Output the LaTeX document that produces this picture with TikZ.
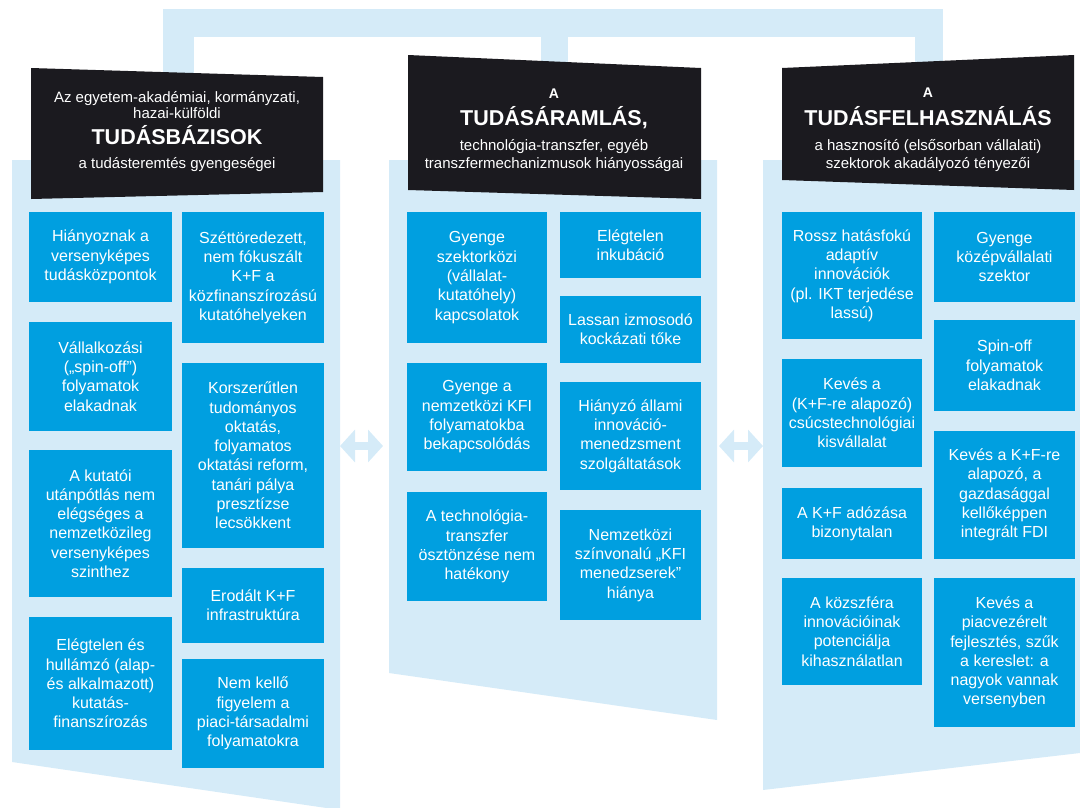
\documentclass[tikz,border=0pt]{standalone}
\usepackage{fontspec}
\setmainfont{Liberation Sans}
\usetikzlibrary{arrows.meta}
\definecolor{halvany}{HTML}{D5EBF8}
\definecolor{kek}{HTML}{009FE0}
\definecolor{fekete}{HTML}{1B1A1F}
\begin{document}
\begin{tikzpicture}[x=1pt,y=-1pt,
        hiba/.style={fill=kek,text=white,align=center,inner sep=0pt,font=\fontsize{16}{19.3}\selectfont},
        fejszoveg/.style={text=white,align=center,inner sep=0pt,font=\fontsize{15}{16}\selectfont},
        fejcim/.style={text=white,inner sep=0pt,anchor=base,font=\fontsize{21.5}{24}\selectfont\bfseries},
        fejA/.style={text=white,inner sep=0pt,font=\fontsize{14}{16}\selectfont\bfseries},
        kettos/.style={draw=halvany,line width=8pt,{Triangle[length=15pt,width=32pt]}-{Triangle[length=15pt,width=32pt]}}]
        \useasboundingbox (0,0) rectangle (1080,807);
        % osszekoto keret felul
        \fill[halvany] (163,9) rectangle (943,37);
        \fill[halvany] (163,37) rectangle (194,80);
        \fill[halvany] (541,37) rectangle (568,70);
        \fill[halvany] (915,37) rectangle (943,70);
        % oszlopok hattere
        \fill[halvany] (12,160) -- (340,160) -- (340,810) -- (12,762) -- cycle;
        \fill[halvany] (389,160) -- (717,160) -- (717,720) -- (389,673) -- cycle;
        \fill[halvany] (763,160) -- (1080,160) -- (1080,753) -- (763,790) -- cycle;
        % fejlecek
        \fill[fekete] (31,68) -- (323,77) -- (323,192) -- (31,199) -- cycle;
        \fill[fekete] (408,55) -- (701,68) -- (701,199) -- (408,190) -- cycle;
        \fill[fekete] (782,68) -- (1074,55) -- (1074,190) -- (782,180) -- cycle;
        \node[fejszoveg] (f1a) at (177,105) {Az egyetem-akadémiai, kormányzati,\\hazai-külföldi};
        \node[fejcim] (f1b) at (177,144.7) {TUDÁSBÁZISOK};
        \node[fejszoveg] (f1c) at (177,165) {a tudásteremtés gyengeségei};
        \node[fejA] (f2a) at (554,94) {A};
        \node[fejcim] (f2b) at (554,125.7) {TUDÁSÁRAMLÁS,};
        \node[fejszoveg,font=\fontsize{15}{18}\selectfont] (f2c) at (554,156) {technológia-transzfer, egyéb\\transzfermechanizmusok hiányosságai};
        \node[fejA] (f3a) at (928,93) {A};
        \node[fejcim] (f3b) at (928,125.7) {TUDÁSFELHASZNÁLÁS};
        \node[fejszoveg,font=\fontsize{15}{18}\selectfont] (f3c) at (928,156) {a hasznosító (elsősorban vállalati)\\szektorok akadályozó tényezői};
        % tudasbazisok
        \node[hiba,minimum width=143,minimum height=90] (l1) at (100.5,257) {Hiányoznak a\\versenyképes\\tudásközpontok};
        \node[hiba,minimum width=143,minimum height=109] (l2) at (100.5,376.5) {Vállalkozási\\(„spin-off”)\\folyamatok\\elakadnak};
        \node[hiba,minimum width=143,minimum height=147] (l3) at (100.5,523.5) {A kutatói\\utánpótlás nem\\elégséges a\\nemzetközileg\\versenyképes\\szinthez};
        \node[hiba,minimum width=143,minimum height=133] (l4) at (100.5,683.5) {Elégtelen és\\hullámzó (alap-\\és alkalmazott)\\kutatás-\\finanszírozás};
        \node[hiba,minimum width=142,minimum height=131] (l5) at (253,277.5) {Széttöredezett,\\nem fókuszált\\K+F a\\közfinanszírozású\\kutatóhelyeken};
        \node[hiba,minimum width=142,minimum height=185] (l6) at (253,455.5) {Korszerűtlen\\tudományos\\oktatás,\\folyamatos\\oktatási reform,\\tanári pálya\\presztízse\\lecsökkent};
        \node[hiba,minimum width=142,minimum height=75] (l7) at (253,605.5) {Erodált K+F\\infrastruktúra};
        \node[hiba,minimum width=142,minimum height=109] (l8) at (253,713.5) {Nem kellő\\figyelem a\\piaci-társadalmi\\folyamatokra};
        % tudasaramlas
        \node[hiba,minimum width=140,minimum height=131] (m1) at (477,277.5) {Gyenge\\szektorközi\\(vállalat-\\kutatóhely)\\kapcsolatok};
        \node[hiba,minimum width=140,minimum height=108] (m2) at (477,417) {Gyenge a\\nemzetközi KFI\\folyamatokba\\bekapcsolódás};
        \node[hiba,minimum width=140,minimum height=109] (m3) at (477,546.5) {A technológia-\\transzfer\\ösztönzése nem\\hatékony};
        \node[hiba,minimum width=141,minimum height=66] (m4) at (630.5,245) {Elégtelen\\inkubáció};
        \node[hiba,minimum width=141,minimum height=67] (m5) at (630.5,329.5) {Lassan izmosodó\\kockázati tőke};
        \node[hiba,minimum width=141,minimum height=108] (m6) at (630.5,436) {Hiányzó állami\\innováció-\\menedzsment\\szolgáltatások};
        \node[hiba,minimum width=141,minimum height=110] (m7) at (630.5,565) {Nemzetközi\\színvonalú „KFI\\menedzserek”\\hiánya};
        % tudasfelhasznalas
        \node[hiba,minimum width=140,minimum height=127] (r1) at (852,275.5) {Rossz hatásfokú\\adaptív\\innovációk\\(pl. IKT terjedése\\lassú)};
        \node[hiba,minimum width=140,minimum height=108] (r2) at (852,413) {Kevés a\\(K+F-re alapozó)\\csúcstechnológiai\\kisvállalat};
        \node[hiba,minimum width=140,minimum height=71] (r3) at (852,523.5) {A K+F adózása\\bizonytalan};
        \node[hiba,minimum width=140,minimum height=107] (r4) at (852,631.5) {A közszféra\\innovációinak\\potenciálja\\kihasználatlan};
        \node[hiba,minimum width=141,minimum height=90] (r5) at (1004.5,257) {Gyenge\\középvállalati\\szektor};
        \node[hiba,minimum width=141,minimum height=91] (r6) at (1004.5,365.5) {Spin-off\\folyamatok\\elakadnak};
        \node[hiba,minimum width=141,minimum height=128] (r7) at (1004.5,495) {Kevés a K+F-re\\alapozó, a\\gazdasággal\\kellőképpen\\integrált FDI};
        \node[hiba,minimum width=141,minimum height=149] (r8) at (1004.5,652.5) {Kevés a\\piacvezérelt\\fejlesztés, szűk\\a kereslet: a\\nagyok vannak\\versenyben};
        % kettos nyilak az oszlopok kozott
        \coordinate (bal) at (340,446);
        \coordinate (kozepbal) at (383,446);
        \coordinate (kozepjobb) at (719,446);
        \coordinate (jobb) at (763,446);
        \draw[kettos] (bal) -- (kozepbal);
        \draw[kettos] (kozepjobb) -- (jobb);
    \end{tikzpicture}
\end{document}
